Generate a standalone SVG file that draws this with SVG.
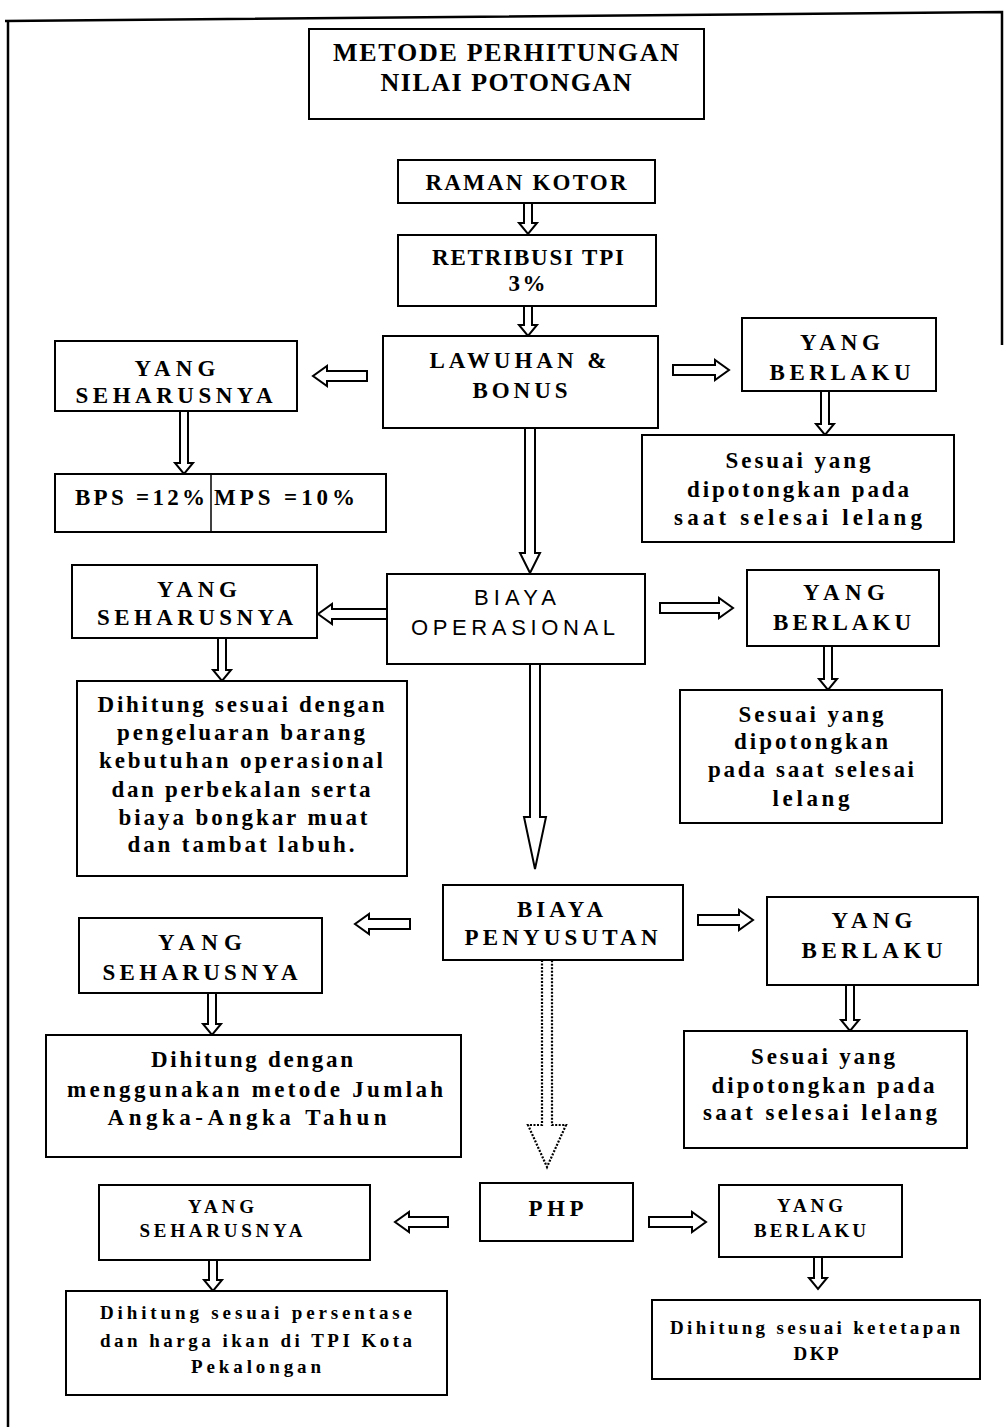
<svg xmlns="http://www.w3.org/2000/svg" width="1006" height="1427" viewBox="0 0 1006 1427">
<style>
.box{fill:#fff;stroke:#000;stroke-width:2}
.arr{fill:#fff;stroke:#000;stroke-width:2;stroke-linejoin:miter}
.dot{fill:none;stroke:#000;stroke-width:2.2;stroke-dasharray:2 1.5}
.frame{fill:none;stroke:#000;stroke-width:2.5}
text{font-family:"Liberation Serif","Times New Roman",serif;font-weight:bold;font-size:23px;text-anchor:middle;fill:#000}
.ti{font-size:26px}
.sm{font-size:19px}
.sans{font-family:"Liberation Sans",Arial,sans-serif;font-weight:normal;font-size:22px}
.st{text-anchor:start}
</style>
<rect width="1006" height="1427" fill="#fff"/>
<path class="frame" d="M5,21 L1002,12 V345 M8,20 V1427"/>
<g id="connectors">
<path class="arr" d="M524,203 V223 H519 L528,234 L537,223 H532 V203 Z"/>
<path class="arr" d="M524,306 V325 H519 L528,336 L537,325 H532 V306 Z"/>
<path class="arr" d="M367,371 H327 V366 L313,376 L327,386 V381 H367 Z"/>
<path class="arr" d="M673,365 H715 V360 L729,370 L715,380 V375 H673 Z"/>
<path class="arr" d="M180,411 V463 H175 L184,474 L193,463 H188 V411 Z"/>
<path class="arr" d="M821,391 V424 H816 L825,435 L834,424 H829 V391 Z"/>
<path class="arr" d="M525,428 V553 H520 L530,573 L540,553 H535 V428 Z"/>
<path class="arr" d="M387,609 H332 V604 L318,614 L332,624 V619 H387 Z"/>
<path class="arr" d="M660,603 H719 V598 L733,608 L719,618 V613 H660 Z"/>
<path class="arr" d="M218,638 V670 H213 L222,681 L231,670 H226 V638 Z"/>
<path class="arr" d="M824,646 V679 H819 L828,690 L837,679 H832 V646 Z"/>
<path class="arr" d="M530,664 V817 H524 L535,869 L546,817 H540 V664 Z"/>
<path class="arr" d="M410,919 H369 V914 L355,924 L369,934 V929 H410 Z"/>
<path class="arr" d="M698,915 H739 V910 L753,920 L739,930 V925 H698 Z"/>
<path class="arr" d="M208,993 V1024 H203 L212,1035 L221,1024 H216 V993 Z"/>
<path class="arr" d="M846,985 V1020 H841 L850,1031 L859,1020 H854 V985 Z"/>
<path class="dot" d="M542,960 V1125 H528 L547,1167 L566,1125 H552 V960"/>
<path class="arr" d="M448,1217 H409 V1212 L395,1222 L409,1232 V1227 H448 Z"/>
<path class="arr" d="M649,1217 H692 V1212 L706,1222 L692,1232 V1227 H649 Z"/>
<path class="arr" d="M209,1260 V1280 H204 L213,1291 L222,1280 H217 V1260 Z"/>
<path class="arr" d="M814,1257 V1278 H809 L818,1289 L827,1278 H822 V1257 Z"/>
</g>
<g id="title">
<rect class="box" x="309" y="29" width="395" height="90"/>
<text class="ti" x="506" y="61" textLength="346" lengthAdjust="spacing">METODE PERHITUNGAN</text>
<text class="ti" x="506" y="91" textLength="251" lengthAdjust="spacing">NILAI POTONGAN</text>
</g>
<g id="raman-kotor">
<rect class="box" x="398" y="160" width="257" height="43"/>
<text x="526" y="190" textLength="201" lengthAdjust="spacing">RAMAN KOTOR</text>
</g>
<g id="retribusi">
<rect class="box" x="398" y="235" width="258" height="71"/>
<text x="528" y="265" textLength="192" lengthAdjust="spacing">RETRIBUSI TPI</text>
<text x="527" y="291" textLength="37" lengthAdjust="spacing">3%</text>
</g>
<g id="lawuhan">
<rect class="box" x="383" y="336" width="275" height="92"/>
<text x="518" y="368" textLength="177" lengthAdjust="spacing">LAWUHAN &amp;</text>
<text x="520" y="398" textLength="95" lengthAdjust="spacing">BONUS</text>
</g>
<g id="seharusnya1">
<rect class="box" x="55" y="341" width="242" height="70"/>
<text x="175" y="376" textLength="81" lengthAdjust="spacing">YANG</text>
<text x="174" y="403" textLength="197" lengthAdjust="spacing">SEHARUSNYA</text>
</g>
<g id="berlaku1">
<rect class="box" x="742" y="318" width="194" height="73"/>
<text x="840" y="350" textLength="80" lengthAdjust="spacing">YANG</text>
<text x="840" y="380" textLength="141" lengthAdjust="spacing">BERLAKU</text>
</g>
<g id="bps-mps">
<rect class="box" x="55" y="474" width="331" height="58"/>
<line x1="211" y1="474" x2="211" y2="532" stroke="#000" stroke-width="1.5"/>
<text class="st" x="75" y="505" textLength="130" lengthAdjust="spacing">BPS =12%</text>
<text class="st" x="214" y="505" textLength="141" lengthAdjust="spacing">MPS =10%</text>
</g>
<g id="sesuai1">
<rect class="box" x="642" y="435" width="312" height="107"/>
<text x="798" y="468" textLength="145" lengthAdjust="spacing">Sesuai yang</text>
<text x="798" y="497" textLength="222" lengthAdjust="spacing">dipotongkan pada</text>
<text x="798" y="525" textLength="248" lengthAdjust="spacing">saat selesai lelang</text>
</g>
<g id="biaya-operasional">
<rect class="box" x="387" y="574" width="258" height="90"/>
<text class="sans" x="515" y="605" textLength="82" lengthAdjust="spacing">BIAYA</text>
<text class="sans" x="513" y="635" textLength="204" lengthAdjust="spacing">OPERASIONAL</text>
</g>
<g id="seharusnya2">
<rect class="box" x="72" y="565" width="245" height="73"/>
<text x="197" y="597" textLength="80" lengthAdjust="spacing">YANG</text>
<text x="195" y="625" textLength="196" lengthAdjust="spacing">SEHARUSNYA</text>
</g>
<g id="berlaku2">
<rect class="box" x="747" y="570" width="192" height="76"/>
<text x="844" y="600" textLength="82" lengthAdjust="spacing">YANG</text>
<text x="842" y="630" textLength="138" lengthAdjust="spacing">BERLAKU</text>
</g>
<g id="dihitung1">
<rect class="box" x="77" y="681" width="330" height="195"/>
<text x="241" y="712" textLength="287" lengthAdjust="spacing">Dihitung sesuai dengan</text>
<text x="241" y="740" textLength="248" lengthAdjust="spacing">pengeluaran barang</text>
<text x="241" y="768" textLength="284" lengthAdjust="spacing">kebutuhan operasional</text>
<text x="241" y="797" textLength="259" lengthAdjust="spacing">dan perbekalan serta</text>
<text x="243" y="825" textLength="249" lengthAdjust="spacing">biaya bongkar muat</text>
<text x="241" y="852" textLength="227" lengthAdjust="spacing">dan tambat labuh.</text>
</g>
<g id="sesuai2">
<rect class="box" x="680" y="690" width="262" height="133"/>
<text x="811" y="722" textLength="145" lengthAdjust="spacing">Sesuai yang</text>
<text x="811" y="749" textLength="154" lengthAdjust="spacing">dipotongkan</text>
<text x="811" y="777" textLength="206" lengthAdjust="spacing">pada saat selesai</text>
<text x="811" y="806" textLength="77" lengthAdjust="spacing">lelang</text>
</g>
<g id="biaya-penyusutan">
<rect class="box" x="443" y="885" width="240" height="75"/>
<text x="560" y="917" textLength="86" lengthAdjust="spacing">BIAYA</text>
<text x="561" y="945" textLength="193" lengthAdjust="spacing">PENYUSUTAN</text>
</g>
<g id="seharusnya3">
<rect class="box" x="79" y="918" width="243" height="75"/>
<text x="200" y="950" textLength="84" lengthAdjust="spacing">YANG</text>
<text x="200" y="980" textLength="195" lengthAdjust="spacing">SEHARUSNYA</text>
</g>
<g id="berlaku3">
<rect class="box" x="767" y="897" width="211" height="88"/>
<text x="872" y="928" textLength="81" lengthAdjust="spacing">YANG</text>
<text x="872" y="958" textLength="141" lengthAdjust="spacing">BERLAKU</text>
</g>
<g id="dihitung2">
<rect class="box" x="46" y="1035" width="415" height="122"/>
<text x="252" y="1067" textLength="202" lengthAdjust="spacing">Dihitung dengan</text>
<text x="255" y="1097" textLength="376" lengthAdjust="spacing">menggunakan metode Jumlah</text>
<text x="247" y="1125" textLength="279" lengthAdjust="spacing">Angka-Angka Tahun</text>
</g>
<g id="sesuai3">
<rect class="box" x="684" y="1031" width="283" height="117"/>
<text x="823" y="1064" textLength="144" lengthAdjust="spacing">Sesuai yang</text>
<text x="823" y="1093" textLength="223" lengthAdjust="spacing">dipotongkan pada</text>
<text x="820" y="1120" textLength="234" lengthAdjust="spacing">saat selesai lelang</text>
</g>
<g id="php">
<rect class="box" x="480" y="1183" width="153" height="58"/>
<text x="556" y="1216" textLength="55" lengthAdjust="spacing">PHP</text>
</g>
<g id="seharusnya4">
<rect class="box" x="99" y="1185" width="271" height="75"/>
<text class="sm" x="221" y="1213" textLength="66" lengthAdjust="spacing">YANG</text>
<text class="sm" x="221" y="1237" textLength="163" lengthAdjust="spacing">SEHARUSNYA</text>
</g>
<g id="berlaku4">
<rect class="box" x="719" y="1185" width="183" height="72"/>
<text class="sm" x="810" y="1212" textLength="66" lengthAdjust="spacing">YANG</text>
<text class="sm" x="810" y="1237" textLength="112" lengthAdjust="spacing">BERLAKU</text>
</g>
<g id="dihitung3">
<rect class="box" x="66" y="1291" width="381" height="104"/>
<text class="sm" x="256" y="1319" textLength="312" lengthAdjust="spacing">Dihitung sesuai persentase</text>
<text class="sm" x="256" y="1347" textLength="312" lengthAdjust="spacing">dan harga ikan di TPI Kota</text>
<text class="sm" x="256" y="1373" textLength="130" lengthAdjust="spacing">Pekalongan</text>
</g>
<g id="ketetapan">
<rect class="box" x="652" y="1300" width="328" height="79"/>
<text class="sm" x="815" y="1334" textLength="290" lengthAdjust="spacing">Dihitung sesuai ketetapan</text>
<text class="sm" x="816" y="1360" textLength="45" lengthAdjust="spacing">DKP</text>
</g>
</svg>
